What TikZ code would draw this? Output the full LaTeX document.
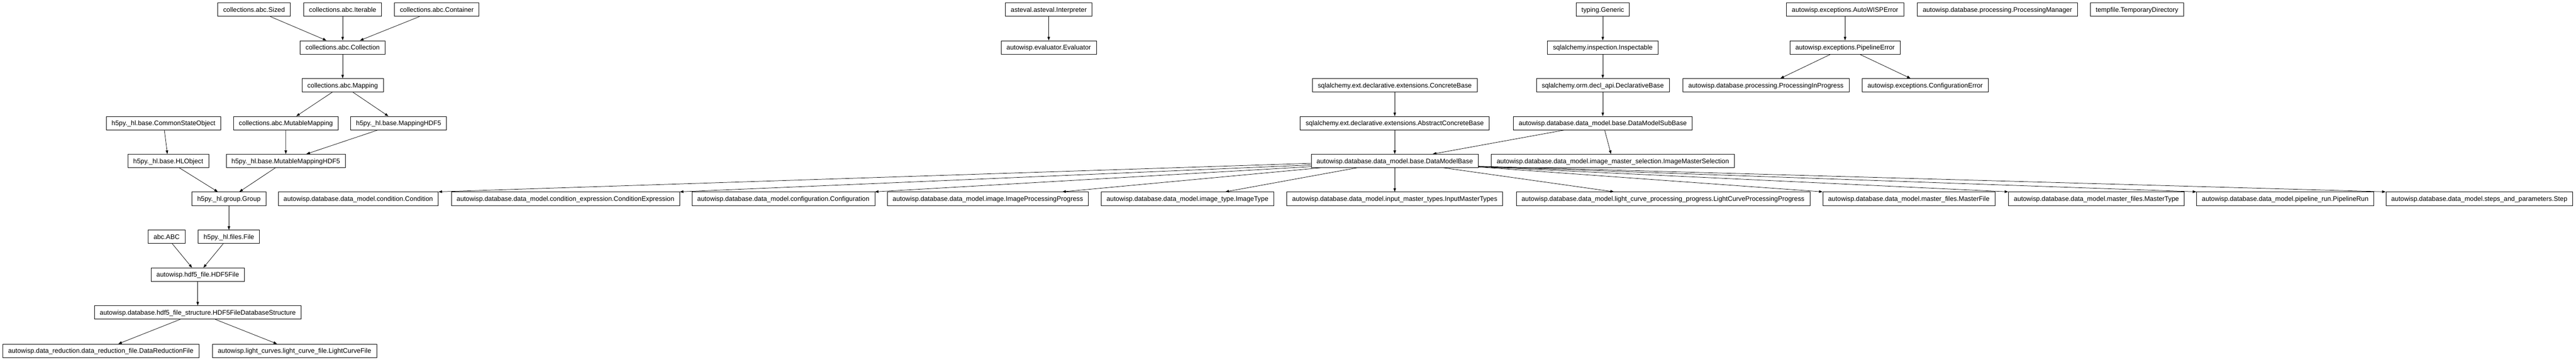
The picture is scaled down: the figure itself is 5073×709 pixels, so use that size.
\documentclass[tikz,border=0pt]{standalone}
\usepackage{fontspec}
\setmainfont{Liberation Sans}
\usepackage{tikz}
\usetikzlibrary{arrows.meta}

\begin{document}
\begin{tikzpicture}[x=1pt, y=-1pt]

            \tikzstyle{classNode} = [shape = rectangle, draw, black, line width=0.75pt, fill=white, inner xsep=10.6pt, inner ysep=0pt, minimum height=26.5pt, text height=12pt, text depth=2.6pt, font=\fontsize{13pt}{15pt}\selectfont];
            \tikzstyle{inheritEdge} = [line width=0.75pt, black, -{Triangle[length=7pt, width=5pt]}];

            \useasboundingbox[fill=white] (0,0) rectangle (5073,709);

            \node[classNode] (sized)       at ( 500.3, 19) {collections.abc.Sized};
            \node[classNode] (iterable)    at ( 674.8, 19) {collections.abc.Iterable};
            \node[classNode] (container)   at ( 860.2, 19) {collections.abc.Container};
            \node[classNode] (interpreter) at (2065.3, 19) {asteval.asteval.Interpreter};
            \node[classNode] (generic)     at (3156.4, 19) {typing.Generic};
            \node[classNode] (wisperror)   at (3633.5, 19) {autowisp.exceptions.AutoWISPError};
            \node[classNode] (procmanager) at (3933.5, 19) {autowisp.database.processing.ProcessingManager};
            \node[classNode] (tempdir)     at (4208.4, 19) {tempfile.TemporaryDirectory};

            \node[classNode] (collection)  at ( 674.8, 93.3) {collections.abc.Collection};
            \node[classNode] (evaluator)   at (2065.3, 93.3) {autowisp.evaluator.Evaluator};
            \node[classNode] (inspectable) at (3156.4, 93.3) {sqlalchemy.inspection.Inspectable};
            \node[classNode] (pipeerror)   at (3633.5, 93.3) {autowisp.exceptions.PipelineError};

            \node[classNode] (mapping)     at ( 674.8, 168) {collections.abc.Mapping};
            \node[classNode] (concrete)    at (2746.7, 168) {sqlalchemy.ext.declarative.extensions.ConcreteBase};
            \node[classNode] (declbase)    at (3156.4, 168) {sqlalchemy.orm.decl\_api.DeclarativeBase};
            \node[classNode] (inprogress)  at (3477.8, 168) {autowisp.database.processing.ProcessingInProgress};
            \node[classNode] (configerror) at (3791.2, 168) {autowisp.exceptions.ConfigurationError};

            \node[classNode] (commonstate) at ( 322.0, 242.5) {h5py.\_hl.base.CommonStateObject};
            \node[classNode] (mutmapping)  at ( 563.0, 242.5) {collections.abc.MutableMapping};
            \node[classNode] (maphdf)      at ( 785.0, 242.5) {h5py.\_hl.base.MappingHDF5};
            \node[classNode] (absconcrete) at (2746.7, 242.5) {sqlalchemy.ext.declarative.extensions.AbstractConcreteBase};
            \node[classNode] (subbase)     at (3156.4, 242.5) {autowisp.database.data\_model.base.DataModelSubBase};

            \node[classNode] (hlobject)    at ( 331.3, 317) {h5py.\_hl.base.HLObject};
            \node[classNode] (mutmaphdf)   at ( 562.8, 317) {h5py.\_hl.base.MutableMappingHDF5};
            \node[classNode] (dmb)         at (2746.7, 317) {autowisp.database.data\_model.base.DataModelBase};
            \node[classNode] (mastersel)   at (3176.2, 317) {autowisp.database.data\_model.image\_master\_selection.ImageMasterSelection};

            \node[classNode] (group)       at ( 450.8, 391.5) {h5py.\_hl.group.Group};
            \node[classNode] (condition)   at ( 705.5, 391.5) {autowisp.database.data\_model.condition.Condition};
            \node[classNode] (condexpr)    at (1113.6, 391.5) {autowisp.database.data\_model.condition\_expression.ConditionExpression};
            \node[classNode] (configuration) at (1542.6, 391.5) {autowisp.database.data\_model.configuration.Configuration};
            \node[classNode] (imgprogress) at (1945.5, 391.5) {autowisp.database.data\_model.image.ImageProcessingProgress};
            \node[classNode] (imagetype)   at (2338.5, 391.5) {autowisp.database.data\_model.image\_type.ImageType};
            \node[classNode] (inputmaster) at (2746.7, 391.5) {autowisp.database.data\_model.input\_master\_types.InputMasterTypes};
            \node[classNode] (lcprogress)  at (3275.0, 391.5) {autowisp.database.data\_model.light\_curve\_processing\_progress.LightCurveProcessingProgress};
            \node[classNode] (masterfile)  at (3759.1, 391.5) {autowisp.database.data\_model.master\_files.MasterFile};
            \node[classNode] (mastertype)  at (4128.4, 391.5) {autowisp.database.data\_model.master\_files.MasterType};
            \node[classNode] (pipelinerun) at (4500.3, 391.5) {autowisp.database.data\_model.pipeline\_run.PipelineRun};
            \node[classNode] (step)        at (4882.5, 391.5) {autowisp.database.data\_model.steps\_and\_parameters.Step};

            \node[classNode] (abc)         at ( 328.0, 466.5) {abc.ABC};
            \node[classNode] (h5file)      at ( 450.8, 466.5) {h5py.\_hl.files.File};

            \node[classNode] (hdffile)     at ( 389.4, 541) {autowisp.hdf5\_file.HDF5File};

            \node[classNode] (hdfstruct)   at ( 389.4, 615.5) {autowisp.database.hdf5\_file\_structure.HDF5FileDatabaseStructure};

            \node[classNode] (drfile)      at ( 198.5, 691) {autowisp.data\_reduction.data\_reduction\_file.DataReductionFile};
            \node[classNode] (lcfile)      at ( 580.0, 691) {autowisp.light\_curves.light\_curve\_file.LightCurveFile};

            \draw[inheritEdge] (sized) -- (collection);
            \draw[inheritEdge] (iterable) -- (collection);
            \draw[inheritEdge] (container) -- (collection);
            \draw[inheritEdge] (collection) -- (mapping);
            \draw[inheritEdge] (mapping) -- (mutmapping);
            \draw[inheritEdge] (mapping) -- (maphdf);
            \draw[inheritEdge] (commonstate) -- (hlobject);
            \draw[inheritEdge] (mutmapping) -- (mutmaphdf);
            \draw[inheritEdge] (maphdf) -- (mutmaphdf);
            \draw[inheritEdge] (hlobject) -- (group);
            \draw[inheritEdge] (mutmaphdf) -- (group);
            \draw[inheritEdge] (group) -- (h5file);
            \draw[inheritEdge] (abc) -- (hdffile);
            \draw[inheritEdge] (h5file) -- (hdffile);
            \draw[inheritEdge] (hdffile) -- (hdfstruct);
            \draw[inheritEdge] (hdfstruct) -- (drfile);
            \draw[inheritEdge] (hdfstruct) -- (lcfile);

            \draw[inheritEdge] (interpreter) -- (evaluator);

            \draw[inheritEdge] (generic) -- (inspectable);
            \draw[inheritEdge] (inspectable) -- (declbase);
            \draw[inheritEdge] (declbase) -- (subbase);
            \draw[inheritEdge] (concrete) -- (absconcrete);
            \draw[inheritEdge] (absconcrete) -- (dmb);
            \draw[inheritEdge] (subbase) -- (dmb);
            \draw[inheritEdge] (subbase) -- (mastersel);

            \draw[inheritEdge] (wisperror) -- (pipeerror);
            \draw[inheritEdge] (pipeerror) -- (inprogress);
            \draw[inheritEdge] (pipeerror) -- (configerror);

            \draw[inheritEdge] ([yshift=-4.7pt]dmb.west) -- (condition.north east);
            \draw[inheritEdge] ([yshift=-8pt]dmb.west) -- (condexpr.north east);
            \draw[inheritEdge] ([yshift=-11.3pt]dmb.west) -- (configuration.north east);
            \draw[inheritEdge] (dmb) -- (imgprogress);
            \draw[inheritEdge] (dmb) -- (imagetype);
            \draw[inheritEdge] (dmb) -- (inputmaster);
            \draw[inheritEdge] (dmb) -- (lcprogress);
            \draw[inheritEdge] ([yshift=-12pt]dmb.east) -- (masterfile.north west);
            \draw[inheritEdge] ([yshift=-11.5pt]dmb.east) -- (mastertype.north west);
            \draw[inheritEdge] ([yshift=-11pt]dmb.east) -- (pipelinerun.north west);
            \draw[inheritEdge] ([yshift=-10.5pt]dmb.east) -- (step.north west);
          \end{tikzpicture}
\end{document}
